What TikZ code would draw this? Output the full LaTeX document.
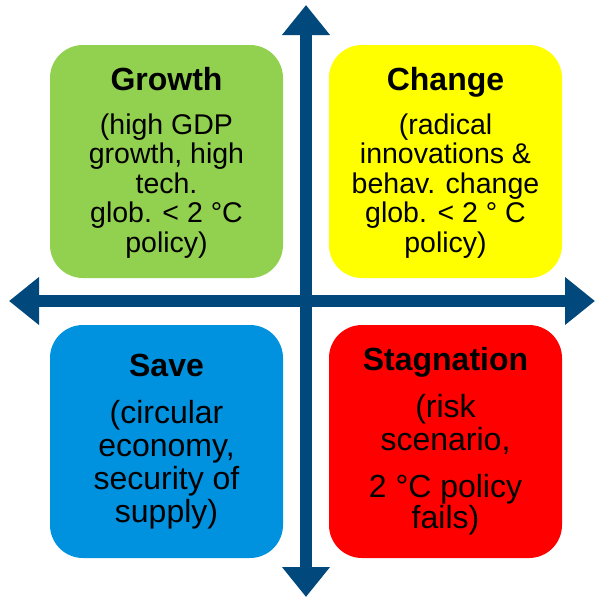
\documentclass[tikz,border=0pt]{standalone}
\usepackage{fontspec}
\setmainfont{Liberation Sans}
\usetikzlibrary{arrows.meta,positioning}
\definecolor{axisblue}{HTML}{01497C}
\definecolor{growthgreen}{HTML}{92D050}
\definecolor{changeyellow}{HTML}{FFFF00}
\definecolor{saveblue}{HTML}{0091DF}
\definecolor{stagred}{HTML}{FF0000}

\begin{document}
\begin{tikzpicture}[x=1pt,y=-1pt]
    \tikzstyle{quad} = [rectangle, rounded corners=33pt, minimum width=233pt,
    minimum height=233pt, inner sep=0pt]
    \tikzstyle{title} = [font=\fontsize{32}{38}\selectfont\bfseries, inner sep=0pt,
    anchor=base]
    \tikzstyle{body} = [font=\fontsize{28.5}{29.5}\selectfont, align=center,
    inner sep=0pt, anchor=base]
    \tikzstyle{bigbody} = [body, font=\fontsize{32}{33}\selectfont]
    \tikzstyle{axis} = [draw=axisblue, line width=12pt,
    {Triangle[width=46pt,length=30pt]}-{Triangle[width=46pt,length=30pt]}]

    \useasboundingbox (0,0) rectangle (596,598);

    % Define quadrants
    \node [quad, fill=growthgreen] (growth) at (166.5,161.5) {};
    \node [quad, fill=changeyellow] (change) at (445.5,161.5) {};
    \node [quad, fill=saveblue] (save) at (166.5,441.5) {};
    \node [quad, fill=stagred] (stagnation) at (445.5,441.5) {};

    % Define texts (body anchored on its last line)
    \node [title] (growthtitle) at (166.5,90) {Growth};
    \node [body] (growthtext) at (166.5,252) {(high GDP\\growth, high\\tech.\\glob. < 2 °C\\policy)};
    \node [title] (changetitle) at (445.5,90) {Change};
    \node [body] (changetext) at (445.5,252) {(radical\\innovations \&\\behav. change\\glob. < 2 ° C\\policy)};
    \node [title] (savetitle) at (166.5,376) {Save};
    \node [bigbody] (savetext) at (166.5,522) {(circular\\economy,\\security of\\supply)};
    \node [title] (stagtitle) at (445.5,370) {Stagnation};
    \node [bigbody] (stagtext) at (445.5,528) {(risk\\scenario,\\[14pt]2 °C policy\\[-2pt]fails)};

    % Define axes
    \coordinate (west) at (9,301);
    \coordinate (east) at (595,301);
    \coordinate (north) at (306,5);
    \coordinate (south) at (306,597);
    \draw [axis] (west) -- (east);
    \draw [axis] (south) -- (north);

  \end{tikzpicture}
\end{document}
